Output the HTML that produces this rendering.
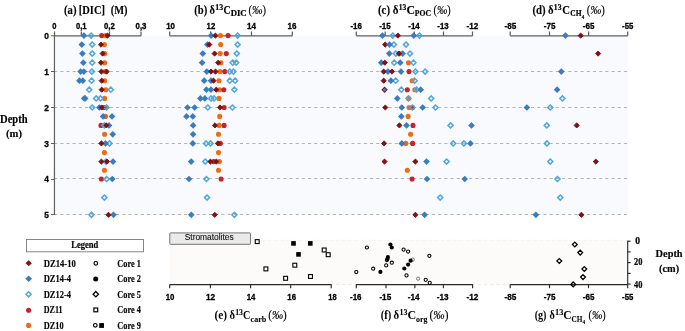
<!DOCTYPE html>
<html><head><meta charset="utf-8"><style>
html,body{margin:0;padding:0;background:#fff;}
body{width:685px;height:331px;overflow:hidden;}
svg{display:block;will-change:transform;}
</style></head><body>
<svg width="685" height="331" viewBox="0 0 685 331">
<rect x="55" y="36" width="573" height="178.5" fill="#f9fafe"/>
<line x1="54.1" y1="71.5" x2="628" y2="71.5" stroke="#b3b3b3" stroke-width="1" stroke-dasharray="3.1 3.094"/>
<line x1="54.1" y1="107.5" x2="628" y2="107.5" stroke="#b3b3b3" stroke-width="1" stroke-dasharray="3.1 3.094"/>
<line x1="54.1" y1="143.5" x2="628" y2="143.5" stroke="#b3b3b3" stroke-width="1" stroke-dasharray="3.1 3.094"/>
<line x1="54.1" y1="178.5" x2="628" y2="178.5" stroke="#b3b3b3" stroke-width="1" stroke-dasharray="3.1 3.094"/>
<line x1="54.1" y1="214.5" x2="628" y2="214.5" stroke="#b3b3b3" stroke-width="1" stroke-dasharray="3.1 3.094"/>
<line x1="54.45" y1="35" x2="54.45" y2="215" stroke="#5f5f5f" stroke-width="1.2"/>
<line x1="51" y1="35.8" x2="54.5" y2="35.8" stroke="#5f5f5f" stroke-width="1"/>
<line x1="51" y1="71.5" x2="54.5" y2="71.5" stroke="#5f5f5f" stroke-width="1"/>
<line x1="51" y1="107.5" x2="54.5" y2="107.5" stroke="#5f5f5f" stroke-width="1"/>
<line x1="51" y1="143.5" x2="54.5" y2="143.5" stroke="#5f5f5f" stroke-width="1"/>
<line x1="51" y1="179.5" x2="54.5" y2="179.5" stroke="#5f5f5f" stroke-width="1"/>
<line x1="51" y1="214.5" x2="54.5" y2="214.5" stroke="#5f5f5f" stroke-width="1"/>
<text x="48.9" y="38.7" font-family="Liberation Sans" font-size="8.4" font-weight="bold" fill="#000" text-anchor="end" stroke="#000" stroke-width="0.3" >0</text>
<text x="48.9" y="74.7" font-family="Liberation Sans" font-size="8.4" font-weight="bold" fill="#000" text-anchor="end" stroke="#000" stroke-width="0.3" >1</text>
<text x="48.9" y="110.7" font-family="Liberation Sans" font-size="8.4" font-weight="bold" fill="#000" text-anchor="end" stroke="#000" stroke-width="0.3" >2</text>
<text x="48.9" y="146.7" font-family="Liberation Sans" font-size="8.4" font-weight="bold" fill="#000" text-anchor="end" stroke="#000" stroke-width="0.3" >3</text>
<text x="48.9" y="182.2" font-family="Liberation Sans" font-size="8.4" font-weight="bold" fill="#000" text-anchor="end" stroke="#000" stroke-width="0.3" >4</text>
<text x="48.9" y="218.0" font-family="Liberation Sans" font-size="8.4" font-weight="bold" fill="#000" text-anchor="end" stroke="#000" stroke-width="0.3" >5</text>
<line x1="54.5" y1="35.8" x2="141.2" y2="35.8" stroke="#5f5f5f" stroke-width="1.25"/>
<line x1="54.5" y1="31.4" x2="54.5" y2="35.8" stroke="#5f5f5f" stroke-width="1.25"/>
<line x1="81.3" y1="31.4" x2="81.3" y2="35.8" stroke="#5f5f5f" stroke-width="1.25"/>
<line x1="109.5" y1="31.4" x2="109.5" y2="35.8" stroke="#5f5f5f" stroke-width="1.25"/>
<line x1="141.0" y1="31.4" x2="141.0" y2="35.8" stroke="#5f5f5f" stroke-width="1.25"/>
<text x="54.3" y="29.0" font-family="Liberation Sans" font-size="8.4" font-weight="bold" fill="#000" text-anchor="middle" stroke="#000" stroke-width="0.3" textLength="4.2" lengthAdjust="spacingAndGlyphs" >0</text>
<text x="81.2" y="29.0" font-family="Liberation Sans" font-size="8.4" font-weight="bold" fill="#000" text-anchor="middle" stroke="#000" stroke-width="0.3" textLength="10.6" lengthAdjust="spacingAndGlyphs" >0,1</text>
<text x="109.4" y="29.0" font-family="Liberation Sans" font-size="8.4" font-weight="bold" fill="#000" text-anchor="middle" stroke="#000" stroke-width="0.3" textLength="10.8" lengthAdjust="spacingAndGlyphs" >0,2</text>
<text x="141.0" y="29.0" font-family="Liberation Sans" font-size="8.4" font-weight="bold" fill="#000" text-anchor="middle" stroke="#000" stroke-width="0.3" textLength="11.0" lengthAdjust="spacingAndGlyphs" >0,3</text>
<line x1="169.7" y1="35.8" x2="292.4" y2="35.8" stroke="#5f5f5f" stroke-width="1.25"/>
<line x1="169.7" y1="31.4" x2="169.7" y2="35.8" stroke="#5f5f5f" stroke-width="1.25"/>
<line x1="210.6" y1="31.4" x2="210.6" y2="35.8" stroke="#5f5f5f" stroke-width="1.25"/>
<line x1="251.5" y1="31.4" x2="251.5" y2="35.8" stroke="#5f5f5f" stroke-width="1.25"/>
<line x1="292.3" y1="31.4" x2="292.3" y2="35.8" stroke="#5f5f5f" stroke-width="1.25"/>
<text x="170.6" y="29.0" font-family="Liberation Sans" font-size="8.4" font-weight="bold" fill="#000" text-anchor="middle" stroke="#000" stroke-width="0.3" textLength="8.8" lengthAdjust="spacingAndGlyphs" >10</text>
<text x="210.9" y="29.0" font-family="Liberation Sans" font-size="8.4" font-weight="bold" fill="#000" text-anchor="middle" stroke="#000" stroke-width="0.3" textLength="8.6" lengthAdjust="spacingAndGlyphs" >12</text>
<text x="251.5" y="29.0" font-family="Liberation Sans" font-size="8.4" font-weight="bold" fill="#000" text-anchor="middle" stroke="#000" stroke-width="0.3" textLength="9.0" lengthAdjust="spacingAndGlyphs" >14</text>
<text x="292.0" y="29.0" font-family="Liberation Sans" font-size="8.4" font-weight="bold" fill="#000" text-anchor="middle" stroke="#000" stroke-width="0.3" textLength="8.9" lengthAdjust="spacingAndGlyphs" >16</text>
<line x1="356.3" y1="35.8" x2="472.6" y2="35.8" stroke="#5f5f5f" stroke-width="1.25"/>
<line x1="356.3" y1="31.4" x2="356.3" y2="35.8" stroke="#5f5f5f" stroke-width="1.25"/>
<line x1="385.2" y1="31.4" x2="385.2" y2="35.8" stroke="#5f5f5f" stroke-width="1.25"/>
<line x1="414.3" y1="31.4" x2="414.3" y2="35.8" stroke="#5f5f5f" stroke-width="1.25"/>
<line x1="443.5" y1="31.4" x2="443.5" y2="35.8" stroke="#5f5f5f" stroke-width="1.25"/>
<line x1="472.5" y1="31.4" x2="472.5" y2="35.8" stroke="#5f5f5f" stroke-width="1.25"/>
<text x="356.1" y="29.0" font-family="Liberation Sans" font-size="8.4" font-weight="bold" fill="#000" text-anchor="middle" stroke="#000" stroke-width="0.3" textLength="11.4" lengthAdjust="spacingAndGlyphs" >-16</text>
<text x="385.0" y="29.0" font-family="Liberation Sans" font-size="8.4" font-weight="bold" fill="#000" text-anchor="middle" stroke="#000" stroke-width="0.3" textLength="11.6" lengthAdjust="spacingAndGlyphs" >-15</text>
<text x="414.0" y="29.0" font-family="Liberation Sans" font-size="8.4" font-weight="bold" fill="#000" text-anchor="middle" stroke="#000" stroke-width="0.3" textLength="11.5" lengthAdjust="spacingAndGlyphs" >-14</text>
<text x="443.0" y="29.0" font-family="Liberation Sans" font-size="8.4" font-weight="bold" fill="#000" text-anchor="middle" stroke="#000" stroke-width="0.3" textLength="11.4" lengthAdjust="spacingAndGlyphs" >-13</text>
<text x="472.5" y="29.0" font-family="Liberation Sans" font-size="8.4" font-weight="bold" fill="#000" text-anchor="middle" stroke="#000" stroke-width="0.3" textLength="11.8" lengthAdjust="spacingAndGlyphs" >-12</text>
<line x1="510.2" y1="35.8" x2="627.8" y2="35.8" stroke="#5f5f5f" stroke-width="1.25"/>
<line x1="510.2" y1="31.4" x2="510.2" y2="35.8" stroke="#5f5f5f" stroke-width="1.25"/>
<line x1="549.5" y1="31.4" x2="549.5" y2="35.8" stroke="#5f5f5f" stroke-width="1.25"/>
<line x1="588.6" y1="31.4" x2="588.6" y2="35.8" stroke="#5f5f5f" stroke-width="1.25"/>
<line x1="627.7" y1="31.4" x2="627.7" y2="35.8" stroke="#5f5f5f" stroke-width="1.25"/>
<text x="510.4" y="29.0" font-family="Liberation Sans" font-size="8.4" font-weight="bold" fill="#000" text-anchor="middle" stroke="#000" stroke-width="0.3" textLength="11.8" lengthAdjust="spacingAndGlyphs" >-85</text>
<text x="549.7" y="29.0" font-family="Liberation Sans" font-size="8.4" font-weight="bold" fill="#000" text-anchor="middle" stroke="#000" stroke-width="0.3" textLength="11.7" lengthAdjust="spacingAndGlyphs" >-75</text>
<text x="588.6" y="29.0" font-family="Liberation Sans" font-size="8.4" font-weight="bold" fill="#000" text-anchor="middle" stroke="#000" stroke-width="0.3" textLength="11.6" lengthAdjust="spacingAndGlyphs" >-65</text>
<text x="627.7" y="29.0" font-family="Liberation Sans" font-size="8.4" font-weight="bold" fill="#000" text-anchor="middle" stroke="#000" stroke-width="0.3" textLength="11.3" lengthAdjust="spacingAndGlyphs" >-55</text>
<circle cx="105.50" cy="35.60" r="2.55" fill="#f06a10"/>
<circle cx="104.40" cy="44.60" r="2.55" fill="#f06a10"/>
<circle cx="104.70" cy="53.60" r="2.55" fill="#f06a10"/>
<circle cx="104.70" cy="62.70" r="2.55" fill="#f06a10"/>
<circle cx="105.00" cy="71.60" r="2.55" fill="#f06a10"/>
<circle cx="104.70" cy="80.70" r="2.55" fill="#f06a10"/>
<circle cx="105.80" cy="89.70" r="2.55" fill="#f06a10"/>
<circle cx="104.60" cy="98.40" r="2.55" fill="#f06a10"/>
<circle cx="105.90" cy="107.50" r="2.55" fill="#f06a10"/>
<circle cx="105.50" cy="116.40" r="2.55" fill="#f06a10"/>
<circle cx="104.60" cy="134.30" r="2.55" fill="#f06a10"/>
<circle cx="104.40" cy="152.60" r="2.55" fill="#f06a10"/>
<circle cx="104.40" cy="170.30" r="2.55" fill="#f06a10"/>
<circle cx="101.70" cy="35.60" r="2.55" fill="#c62329"/>
<circle cx="103.60" cy="107.50" r="2.55" fill="#c62329"/>
<circle cx="101.00" cy="125.40" r="2.55" fill="#c62329"/>
<circle cx="101.40" cy="179.00" r="2.55" fill="#c62329"/>
<path d="M91.10 33.05L93.65 35.60L91.10 38.15L88.55 35.60Z" fill="none" stroke="#52a6dc" stroke-width="1.5"/>
<path d="M92.20 42.05L94.75 44.60L92.20 47.15L89.65 44.60Z" fill="none" stroke="#52a6dc" stroke-width="1.5"/>
<path d="M92.20 51.05L94.75 53.60L92.20 56.15L89.65 53.60Z" fill="none" stroke="#52a6dc" stroke-width="1.5"/>
<path d="M92.20 60.15L94.75 62.70L92.20 65.25L89.65 62.70Z" fill="none" stroke="#52a6dc" stroke-width="1.5"/>
<path d="M91.90 69.05L94.45 71.60L91.90 74.15L89.35 71.60Z" fill="none" stroke="#52a6dc" stroke-width="1.5"/>
<path d="M91.60 78.15L94.15 80.70L91.60 83.25L89.05 80.70Z" fill="none" stroke="#52a6dc" stroke-width="1.5"/>
<path d="M89.20 87.15L91.75 89.70L89.20 92.25L86.65 89.70Z" fill="none" stroke="#52a6dc" stroke-width="1.5"/>
<path d="M110.80 87.15L113.35 89.70L110.80 92.25L108.25 89.70Z" fill="none" stroke="#52a6dc" stroke-width="1.5"/>
<path d="M96.20 95.85L98.75 98.40L96.20 100.95L93.65 98.40Z" fill="none" stroke="#52a6dc" stroke-width="1.5"/>
<path d="M100.40 95.85L102.95 98.40L100.40 100.95L97.85 98.40Z" fill="none" stroke="#52a6dc" stroke-width="1.5"/>
<path d="M92.20 104.95L94.75 107.50L92.20 110.05L89.65 107.50Z" fill="none" stroke="#52a6dc" stroke-width="1.5"/>
<path d="M106.50 104.95L109.05 107.50L106.50 110.05L103.95 107.50Z" fill="none" stroke="#52a6dc" stroke-width="1.5"/>
<path d="M104.40 122.85L106.95 125.40L104.40 127.95L101.85 125.40Z" fill="none" stroke="#52a6dc" stroke-width="1.5"/>
<path d="M109.50 140.85L112.05 143.40L109.50 145.95L106.95 143.40Z" fill="none" stroke="#52a6dc" stroke-width="1.5"/>
<path d="M106.00 159.05L108.55 161.60L106.00 164.15L103.45 161.60Z" fill="none" stroke="#52a6dc" stroke-width="1.5"/>
<path d="M106.60 176.45L109.15 179.00L106.60 181.55L104.05 179.00Z" fill="none" stroke="#52a6dc" stroke-width="1.5"/>
<path d="M104.40 195.05L106.95 197.60L104.40 200.15L101.85 197.60Z" fill="none" stroke="#52a6dc" stroke-width="1.5"/>
<path d="M91.50 212.25L94.05 214.80L91.50 217.35L88.95 214.80Z" fill="none" stroke="#52a6dc" stroke-width="1.5"/>
<path d="M83.90 32.25L87.25 35.60L83.90 38.95L80.55 35.60Z" fill="#3a7cc4"/>
<path d="M81.80 41.25L85.15 44.60L81.80 47.95L78.45 44.60Z" fill="#3a7cc4"/>
<path d="M82.40 50.25L85.75 53.60L82.40 56.95L79.05 53.60Z" fill="#3a7cc4"/>
<path d="M83.30 59.35L86.65 62.70L83.30 66.05L79.95 62.70Z" fill="#3a7cc4"/>
<path d="M80.60 68.25L83.95 71.60L80.60 74.95L77.25 71.60Z" fill="#3a7cc4"/>
<path d="M83.90 68.25L87.25 71.60L83.90 74.95L80.55 71.60Z" fill="#3a7cc4"/>
<path d="M79.40 77.35L82.75 80.70L79.40 84.05L76.05 80.70Z" fill="#3a7cc4"/>
<path d="M82.80 77.35L86.15 80.70L82.80 84.05L79.45 80.70Z" fill="#3a7cc4"/>
<path d="M84.20 95.05L87.55 98.40L84.20 101.75L80.85 98.40Z" fill="#3a7cc4"/>
<path d="M85.20 95.05L88.55 98.40L85.20 101.75L81.85 98.40Z" fill="#3a7cc4"/>
<path d="M99.30 104.15L102.65 107.50L99.30 110.85L95.95 107.50Z" fill="#3a7cc4"/>
<path d="M103.10 113.05L106.45 116.40L103.10 119.75L99.75 116.40Z" fill="#3a7cc4"/>
<path d="M112.00 113.05L115.35 116.40L112.00 119.75L108.65 116.40Z" fill="#3a7cc4"/>
<path d="M109.00 122.05L112.35 125.40L109.00 128.75L105.65 125.40Z" fill="#3a7cc4"/>
<path d="M112.70 130.95L116.05 134.30L112.70 137.65L109.35 134.30Z" fill="#3a7cc4"/>
<path d="M105.50 140.05L108.85 143.40L105.50 146.75L102.15 143.40Z" fill="#3a7cc4"/>
<path d="M113.00 158.25L116.35 161.60L113.00 164.95L109.65 161.60Z" fill="#3a7cc4"/>
<path d="M112.30 175.65L115.65 179.00L112.30 182.35L108.95 179.00Z" fill="#3a7cc4"/>
<path d="M113.50 211.45L116.85 214.80L113.50 218.15L110.15 214.80Z" fill="#3a7cc4"/>
<path d="M107.50 33.00L110.10 35.60L107.50 38.20L104.90 35.60Z" fill="#801111" stroke="#801111" stroke-width="0.9" stroke-linejoin="round"/>
<path d="M101.00 42.00L103.60 44.60L101.00 47.20L98.40 44.60Z" fill="#801111" stroke="#801111" stroke-width="0.9" stroke-linejoin="round"/>
<path d="M102.60 51.00L105.20 53.60L102.60 56.20L100.00 53.60Z" fill="#801111" stroke="#801111" stroke-width="0.9" stroke-linejoin="round"/>
<path d="M101.00 60.10L103.60 62.70L101.00 65.30L98.40 62.70Z" fill="#801111" stroke="#801111" stroke-width="0.9" stroke-linejoin="round"/>
<path d="M101.40 69.00L104.00 71.60L101.40 74.20L98.80 71.60Z" fill="#801111" stroke="#801111" stroke-width="0.9" stroke-linejoin="round"/>
<path d="M106.60 69.00L109.20 71.60L106.60 74.20L104.00 71.60Z" fill="#801111" stroke="#801111" stroke-width="0.9" stroke-linejoin="round"/>
<path d="M101.70 78.10L104.30 80.70L101.70 83.30L99.10 80.70Z" fill="#801111" stroke="#801111" stroke-width="0.9" stroke-linejoin="round"/>
<path d="M101.70 87.10L104.30 89.70L101.70 92.30L99.10 89.70Z" fill="#801111" stroke="#801111" stroke-width="0.9" stroke-linejoin="round"/>
<path d="M101.60 104.90L104.20 107.50L101.60 110.10L99.00 107.50Z" fill="#801111" stroke="#801111" stroke-width="0.9" stroke-linejoin="round"/>
<path d="M106.30 122.80L108.90 125.40L106.30 128.00L103.70 125.40Z" fill="#801111" stroke="#801111" stroke-width="0.9" stroke-linejoin="round"/>
<path d="M101.40 140.80L104.00 143.40L101.40 146.00L98.80 143.40Z" fill="#801111" stroke="#801111" stroke-width="0.9" stroke-linejoin="round"/>
<path d="M101.40 159.00L104.00 161.60L101.40 164.20L98.80 161.60Z" fill="#801111" stroke="#801111" stroke-width="0.9" stroke-linejoin="round"/>
<path d="M107.00 159.00L109.60 161.60L107.00 164.20L104.40 161.60Z" fill="#801111" stroke="#801111" stroke-width="0.9" stroke-linejoin="round"/>
<path d="M108.50 212.20L111.10 214.80L108.50 217.40L105.90 214.80Z" fill="#801111" stroke="#801111" stroke-width="0.9" stroke-linejoin="round"/>
<circle cx="220.50" cy="35.60" r="2.55" fill="#f06a10"/>
<circle cx="220.70" cy="44.60" r="2.55" fill="#f06a10"/>
<circle cx="220.20" cy="53.60" r="2.55" fill="#f06a10"/>
<circle cx="221.00" cy="62.70" r="2.55" fill="#f06a10"/>
<circle cx="220.10" cy="71.60" r="2.55" fill="#f06a10"/>
<circle cx="219.00" cy="80.70" r="2.55" fill="#f06a10"/>
<circle cx="219.60" cy="89.70" r="2.55" fill="#f06a10"/>
<circle cx="219.00" cy="98.40" r="2.55" fill="#f06a10"/>
<circle cx="219.70" cy="116.40" r="2.55" fill="#f06a10"/>
<circle cx="219.10" cy="125.40" r="2.55" fill="#f06a10"/>
<circle cx="218.50" cy="134.30" r="2.55" fill="#f06a10"/>
<circle cx="218.50" cy="152.60" r="2.55" fill="#f06a10"/>
<circle cx="219.40" cy="161.60" r="2.55" fill="#f06a10"/>
<circle cx="218.50" cy="170.30" r="2.55" fill="#f06a10"/>
<circle cx="228.10" cy="35.60" r="2.55" fill="#c62329"/>
<circle cx="226.30" cy="53.60" r="2.55" fill="#c62329"/>
<circle cx="224.80" cy="71.60" r="2.55" fill="#c62329"/>
<circle cx="223.80" cy="89.70" r="2.55" fill="#c62329"/>
<circle cx="224.10" cy="107.50" r="2.55" fill="#c62329"/>
<circle cx="224.10" cy="125.40" r="2.55" fill="#c62329"/>
<circle cx="220.30" cy="143.40" r="2.55" fill="#c62329"/>
<circle cx="213.60" cy="161.60" r="2.55" fill="#c62329"/>
<circle cx="221.10" cy="179.00" r="2.55" fill="#c62329"/>
<path d="M237.60 33.05L240.15 35.60L237.60 38.15L235.05 35.60Z" fill="none" stroke="#52a6dc" stroke-width="1.5"/>
<path d="M237.60 42.05L240.15 44.60L237.60 47.15L235.05 44.60Z" fill="none" stroke="#52a6dc" stroke-width="1.5"/>
<path d="M236.80 51.05L239.35 53.60L236.80 56.15L234.25 53.60Z" fill="none" stroke="#52a6dc" stroke-width="1.5"/>
<path d="M232.70 60.15L235.25 62.70L232.70 65.25L230.15 62.70Z" fill="none" stroke="#52a6dc" stroke-width="1.5"/>
<path d="M236.10 60.15L238.65 62.70L236.10 65.25L233.55 62.70Z" fill="none" stroke="#52a6dc" stroke-width="1.5"/>
<path d="M229.70 69.05L232.25 71.60L229.70 74.15L227.15 71.60Z" fill="none" stroke="#52a6dc" stroke-width="1.5"/>
<path d="M233.40 69.05L235.95 71.60L233.40 74.15L230.85 71.60Z" fill="none" stroke="#52a6dc" stroke-width="1.5"/>
<path d="M229.80 78.15L232.35 80.70L229.80 83.25L227.25 80.70Z" fill="none" stroke="#52a6dc" stroke-width="1.5"/>
<path d="M235.10 78.15L237.65 80.70L235.10 83.25L232.55 80.70Z" fill="none" stroke="#52a6dc" stroke-width="1.5"/>
<path d="M234.40 87.15L236.95 89.70L234.40 92.25L231.85 89.70Z" fill="none" stroke="#52a6dc" stroke-width="1.5"/>
<path d="M211.00 95.85L213.55 98.40L211.00 100.95L208.45 98.40Z" fill="none" stroke="#52a6dc" stroke-width="1.5"/>
<path d="M214.00 95.85L216.55 98.40L214.00 100.95L211.45 98.40Z" fill="none" stroke="#52a6dc" stroke-width="1.5"/>
<path d="M207.80 104.95L210.35 107.50L207.80 110.05L205.25 107.50Z" fill="none" stroke="#52a6dc" stroke-width="1.5"/>
<path d="M232.40 104.95L234.95 107.50L232.40 110.05L229.85 107.50Z" fill="none" stroke="#52a6dc" stroke-width="1.5"/>
<path d="M206.00 140.85L208.55 143.40L206.00 145.95L203.45 143.40Z" fill="none" stroke="#52a6dc" stroke-width="1.5"/>
<path d="M210.50 140.85L213.05 143.40L210.50 145.95L207.95 143.40Z" fill="none" stroke="#52a6dc" stroke-width="1.5"/>
<path d="M205.30 159.05L207.85 161.60L205.30 164.15L202.75 161.60Z" fill="none" stroke="#52a6dc" stroke-width="1.5"/>
<path d="M206.40 176.45L208.95 179.00L206.40 181.55L203.85 179.00Z" fill="none" stroke="#52a6dc" stroke-width="1.5"/>
<path d="M207.00 195.05L209.55 197.60L207.00 200.15L204.45 197.60Z" fill="none" stroke="#52a6dc" stroke-width="1.5"/>
<path d="M234.40 212.25L236.95 214.80L234.40 217.35L231.85 214.80Z" fill="none" stroke="#52a6dc" stroke-width="1.5"/>
<path d="M211.10 32.25L214.45 35.60L211.10 38.95L207.75 35.60Z" fill="#3a7cc4"/>
<path d="M207.40 41.25L210.75 44.60L207.40 47.95L204.05 44.60Z" fill="#3a7cc4"/>
<path d="M202.80 50.25L206.15 53.60L202.80 56.95L199.45 53.60Z" fill="#3a7cc4"/>
<path d="M202.10 59.35L205.45 62.70L202.10 66.05L198.75 62.70Z" fill="#3a7cc4"/>
<path d="M206.80 68.25L210.15 71.60L206.80 74.95L203.45 71.60Z" fill="#3a7cc4"/>
<path d="M204.20 77.35L207.55 80.70L204.20 84.05L200.85 80.70Z" fill="#3a7cc4"/>
<path d="M211.00 77.35L214.35 80.70L211.00 84.05L207.65 80.70Z" fill="#3a7cc4"/>
<path d="M206.40 86.35L209.75 89.70L206.40 93.05L203.05 89.70Z" fill="#3a7cc4"/>
<path d="M211.00 86.35L214.35 89.70L211.00 93.05L207.65 89.70Z" fill="#3a7cc4"/>
<path d="M200.40 95.05L203.75 98.40L200.40 101.75L197.05 98.40Z" fill="#3a7cc4"/>
<path d="M204.90 95.05L208.25 98.40L204.90 101.75L201.55 98.40Z" fill="#3a7cc4"/>
<path d="M187.50 104.15L190.85 107.50L187.50 110.85L184.15 107.50Z" fill="#3a7cc4"/>
<path d="M194.60 104.15L197.95 107.50L194.60 110.85L191.25 107.50Z" fill="#3a7cc4"/>
<path d="M186.50 113.05L189.85 116.40L186.50 119.75L183.15 116.40Z" fill="#3a7cc4"/>
<path d="M192.80 113.05L196.15 116.40L192.80 119.75L189.45 116.40Z" fill="#3a7cc4"/>
<path d="M193.10 122.05L196.45 125.40L193.10 128.75L189.75 125.40Z" fill="#3a7cc4"/>
<path d="M193.10 130.95L196.45 134.30L193.10 137.65L189.75 134.30Z" fill="#3a7cc4"/>
<path d="M192.80 140.05L196.15 143.40L192.80 146.75L189.45 143.40Z" fill="#3a7cc4"/>
<path d="M191.20 158.25L194.55 161.60L191.20 164.95L187.85 161.60Z" fill="#3a7cc4"/>
<path d="M189.00 175.65L192.35 179.00L189.00 182.35L185.65 179.00Z" fill="#3a7cc4"/>
<path d="M191.30 211.45L194.65 214.80L191.30 218.15L187.95 214.80Z" fill="#3a7cc4"/>
<path d="M215.40 33.00L218.00 35.60L215.40 38.20L212.80 35.60Z" fill="#801111" stroke="#801111" stroke-width="0.9" stroke-linejoin="round"/>
<path d="M209.30 42.00L211.90 44.60L209.30 47.20L206.70 44.60Z" fill="#801111" stroke="#801111" stroke-width="0.9" stroke-linejoin="round"/>
<path d="M214.60 51.00L217.20 53.60L214.60 56.20L212.00 53.60Z" fill="#801111" stroke="#801111" stroke-width="0.9" stroke-linejoin="round"/>
<path d="M218.20 60.10L220.80 62.70L218.20 65.30L215.60 62.70Z" fill="#801111" stroke="#801111" stroke-width="0.9" stroke-linejoin="round"/>
<path d="M211.00 69.00L213.60 71.60L211.00 74.20L208.40 71.60Z" fill="#801111" stroke="#801111" stroke-width="0.9" stroke-linejoin="round"/>
<path d="M215.50 69.00L218.10 71.60L215.50 74.20L212.90 71.60Z" fill="#801111" stroke="#801111" stroke-width="0.9" stroke-linejoin="round"/>
<path d="M213.50 78.10L216.10 80.70L213.50 83.30L210.90 80.70Z" fill="#801111" stroke="#801111" stroke-width="0.9" stroke-linejoin="round"/>
<path d="M216.30 87.10L218.90 89.70L216.30 92.30L213.70 89.70Z" fill="#801111" stroke="#801111" stroke-width="0.9" stroke-linejoin="round"/>
<path d="M220.00 104.90L222.60 107.50L220.00 110.10L217.40 107.50Z" fill="#801111" stroke="#801111" stroke-width="0.9" stroke-linejoin="round"/>
<path d="M215.00 122.80L217.60 125.40L215.00 128.00L212.40 125.40Z" fill="#801111" stroke="#801111" stroke-width="0.9" stroke-linejoin="round"/>
<path d="M217.90 140.80L220.50 143.40L217.90 146.00L215.30 143.40Z" fill="#801111" stroke="#801111" stroke-width="0.9" stroke-linejoin="round"/>
<path d="M210.40 159.00L213.00 161.60L210.40 164.20L207.80 161.60Z" fill="#801111" stroke="#801111" stroke-width="0.9" stroke-linejoin="round"/>
<path d="M216.30 159.00L218.90 161.60L216.30 164.20L213.70 161.60Z" fill="#801111" stroke="#801111" stroke-width="0.9" stroke-linejoin="round"/>
<path d="M214.70 212.20L217.30 214.80L214.70 217.40L212.10 214.80Z" fill="#801111" stroke="#801111" stroke-width="0.9" stroke-linejoin="round"/>
<circle cx="399.50" cy="53.60" r="2.55" fill="#f06a10"/>
<circle cx="408.50" cy="62.70" r="2.55" fill="#f06a10"/>
<circle cx="412.10" cy="80.70" r="2.55" fill="#f06a10"/>
<circle cx="414.80" cy="89.70" r="2.55" fill="#f06a10"/>
<circle cx="408.50" cy="98.40" r="2.55" fill="#f06a10"/>
<circle cx="409.10" cy="107.50" r="2.55" fill="#f06a10"/>
<circle cx="408.10" cy="116.40" r="2.55" fill="#f06a10"/>
<circle cx="410.60" cy="134.30" r="2.55" fill="#f06a10"/>
<circle cx="405.70" cy="143.40" r="2.55" fill="#f06a10"/>
<circle cx="407.30" cy="170.30" r="2.55" fill="#f06a10"/>
<circle cx="409.00" cy="71.60" r="2.55" fill="#c62329"/>
<circle cx="407.30" cy="89.70" r="2.55" fill="#c62329"/>
<circle cx="412.40" cy="107.50" r="2.55" fill="#c62329"/>
<circle cx="413.00" cy="125.40" r="2.55" fill="#c62329"/>
<circle cx="412.60" cy="143.40" r="2.55" fill="#c62329"/>
<circle cx="412.10" cy="179.00" r="2.55" fill="#c62329"/>
<path d="M392.70 33.05L395.25 35.60L392.70 38.15L390.15 35.60Z" fill="none" stroke="#52a6dc" stroke-width="1.5"/>
<path d="M419.50 33.05L422.05 35.60L419.50 38.15L416.95 35.60Z" fill="none" stroke="#52a6dc" stroke-width="1.5"/>
<path d="M393.90 42.05L396.45 44.60L393.90 47.15L391.35 44.60Z" fill="none" stroke="#52a6dc" stroke-width="1.5"/>
<path d="M406.00 42.05L408.55 44.60L406.00 47.15L403.45 44.60Z" fill="none" stroke="#52a6dc" stroke-width="1.5"/>
<path d="M395.80 51.05L398.35 53.60L395.80 56.15L393.25 53.60Z" fill="none" stroke="#52a6dc" stroke-width="1.5"/>
<path d="M410.00 51.05L412.55 53.60L410.00 56.15L407.45 53.60Z" fill="none" stroke="#52a6dc" stroke-width="1.5"/>
<path d="M394.20 60.15L396.75 62.70L394.20 65.25L391.65 62.70Z" fill="none" stroke="#52a6dc" stroke-width="1.5"/>
<path d="M413.40 60.15L415.95 62.70L413.40 65.25L410.85 62.70Z" fill="none" stroke="#52a6dc" stroke-width="1.5"/>
<path d="M415.40 69.05L417.95 71.60L415.40 74.15L412.85 71.60Z" fill="none" stroke="#52a6dc" stroke-width="1.5"/>
<path d="M425.10 69.05L427.65 71.60L425.10 74.15L422.55 71.60Z" fill="none" stroke="#52a6dc" stroke-width="1.5"/>
<path d="M395.70 78.15L398.25 80.70L395.70 83.25L393.15 80.70Z" fill="none" stroke="#52a6dc" stroke-width="1.5"/>
<path d="M414.60 78.15L417.15 80.70L414.60 83.25L412.05 80.70Z" fill="none" stroke="#52a6dc" stroke-width="1.5"/>
<path d="M401.30 87.15L403.85 89.70L401.30 92.25L398.75 89.70Z" fill="none" stroke="#52a6dc" stroke-width="1.5"/>
<path d="M416.50 87.15L419.05 89.70L416.50 92.25L413.95 89.70Z" fill="none" stroke="#52a6dc" stroke-width="1.5"/>
<path d="M408.50 95.85L411.05 98.40L408.50 100.95L405.95 98.40Z" fill="none" stroke="#52a6dc" stroke-width="1.5"/>
<path d="M431.20 95.85L433.75 98.40L431.20 100.95L428.65 98.40Z" fill="none" stroke="#52a6dc" stroke-width="1.5"/>
<path d="M412.40 104.95L414.95 107.50L412.40 110.05L409.85 107.50Z" fill="none" stroke="#52a6dc" stroke-width="1.5"/>
<path d="M435.50 104.95L438.05 107.50L435.50 110.05L432.95 107.50Z" fill="none" stroke="#52a6dc" stroke-width="1.5"/>
<path d="M450.60 122.85L453.15 125.40L450.60 127.95L448.05 125.40Z" fill="none" stroke="#52a6dc" stroke-width="1.5"/>
<path d="M453.20 140.85L455.75 143.40L453.20 145.95L450.65 143.40Z" fill="none" stroke="#52a6dc" stroke-width="1.5"/>
<path d="M463.90 140.85L466.45 143.40L463.90 145.95L461.35 143.40Z" fill="none" stroke="#52a6dc" stroke-width="1.5"/>
<path d="M446.60 159.05L449.15 161.60L446.60 164.15L444.05 161.60Z" fill="none" stroke="#52a6dc" stroke-width="1.5"/>
<path d="M440.20 195.05L442.75 197.60L440.20 200.15L437.65 197.60Z" fill="none" stroke="#52a6dc" stroke-width="1.5"/>
<path d="M382.40 32.25L385.75 35.60L382.40 38.95L379.05 35.60Z" fill="#3a7cc4"/>
<path d="M413.80 32.25L417.15 35.60L413.80 38.95L410.45 35.60Z" fill="#3a7cc4"/>
<path d="M389.30 50.25L392.65 53.60L389.30 56.95L385.95 53.60Z" fill="#3a7cc4"/>
<path d="M402.60 50.25L405.95 53.60L402.60 56.95L399.25 53.60Z" fill="#3a7cc4"/>
<path d="M381.30 59.35L384.65 62.70L381.30 66.05L377.95 62.70Z" fill="#3a7cc4"/>
<path d="M400.20 59.35L403.55 62.70L400.20 66.05L396.85 62.70Z" fill="#3a7cc4"/>
<path d="M388.00 68.25L391.35 71.60L388.00 74.95L384.65 71.60Z" fill="#3a7cc4"/>
<path d="M401.00 68.25L404.35 71.60L401.00 74.95L397.65 71.60Z" fill="#3a7cc4"/>
<path d="M390.90 77.35L394.25 80.70L390.90 84.05L387.55 80.70Z" fill="#3a7cc4"/>
<path d="M420.70 86.35L424.05 89.70L420.70 93.05L417.35 89.70Z" fill="#3a7cc4"/>
<path d="M397.30 95.05L400.65 98.40L397.30 101.75L393.95 98.40Z" fill="#3a7cc4"/>
<path d="M401.80 104.15L405.15 107.50L401.80 110.85L398.45 107.50Z" fill="#3a7cc4"/>
<path d="M422.70 104.15L426.05 107.50L422.70 110.85L419.35 107.50Z" fill="#3a7cc4"/>
<path d="M401.30 113.05L404.65 116.40L401.30 119.75L397.95 116.40Z" fill="#3a7cc4"/>
<path d="M406.50 122.05L409.85 125.40L406.50 128.75L403.15 125.40Z" fill="#3a7cc4"/>
<path d="M471.50 122.05L474.85 125.40L471.50 128.75L468.15 125.40Z" fill="#3a7cc4"/>
<path d="M401.80 140.05L405.15 143.40L401.80 146.75L398.45 143.40Z" fill="#3a7cc4"/>
<path d="M470.40 140.05L473.75 143.40L470.40 146.75L467.05 143.40Z" fill="#3a7cc4"/>
<path d="M426.50 158.25L429.85 161.60L426.50 164.95L423.15 161.60Z" fill="#3a7cc4"/>
<path d="M427.00 175.65L430.35 179.00L427.00 182.35L423.65 179.00Z" fill="#3a7cc4"/>
<path d="M464.70 175.65L468.05 179.00L464.70 182.35L461.35 179.00Z" fill="#3a7cc4"/>
<path d="M424.60 211.45L427.95 214.80L424.60 218.15L421.25 214.80Z" fill="#3a7cc4"/>
<path d="M384.60 86.50L387.80 89.70L384.60 92.90L381.40 89.70Z" fill="#801111"/>
<path d="M384.60 87.70L386.60 89.70L384.60 91.70L382.60 89.70Z" fill="#3a7cc4"/>
<path d="M397.90 33.00L400.50 35.60L397.90 38.20L395.30 35.60Z" fill="#801111" stroke="#801111" stroke-width="0.9" stroke-linejoin="round"/>
<path d="M385.20 42.00L387.80 44.60L385.20 47.20L382.60 44.60Z" fill="#801111" stroke="#801111" stroke-width="0.9" stroke-linejoin="round"/>
<path d="M398.90 51.00L401.50 53.60L398.90 56.20L396.30 53.60Z" fill="#801111" stroke="#801111" stroke-width="0.9" stroke-linejoin="round"/>
<path d="M384.80 60.10L387.40 62.70L384.80 65.30L382.20 62.70Z" fill="#801111" stroke="#801111" stroke-width="0.9" stroke-linejoin="round"/>
<path d="M383.70 69.00L386.30 71.60L383.70 74.20L381.10 71.60Z" fill="#801111" stroke="#801111" stroke-width="0.9" stroke-linejoin="round"/>
<path d="M392.00 69.00L394.60 71.60L392.00 74.20L389.40 71.60Z" fill="#801111" stroke="#801111" stroke-width="0.9" stroke-linejoin="round"/>
<path d="M383.70 78.10L386.30 80.70L383.70 83.30L381.10 80.70Z" fill="#801111" stroke="#801111" stroke-width="0.9" stroke-linejoin="round"/>
<path d="M385.30 104.90L387.90 107.50L385.30 110.10L382.70 107.50Z" fill="#801111" stroke="#801111" stroke-width="0.9" stroke-linejoin="round"/>
<path d="M399.40 122.80L402.00 125.40L399.40 128.00L396.80 125.40Z" fill="#801111" stroke="#801111" stroke-width="0.9" stroke-linejoin="round"/>
<path d="M384.10 140.80L386.70 143.40L384.10 146.00L381.50 143.40Z" fill="#801111" stroke="#801111" stroke-width="0.9" stroke-linejoin="round"/>
<path d="M384.50 159.00L387.10 161.60L384.50 164.20L381.90 161.60Z" fill="#801111" stroke="#801111" stroke-width="0.9" stroke-linejoin="round"/>
<path d="M415.40 159.00L418.00 161.60L415.40 164.20L412.80 161.60Z" fill="#801111" stroke="#801111" stroke-width="0.9" stroke-linejoin="round"/>
<path d="M415.40 212.20L418.00 214.80L415.40 217.40L412.80 214.80Z" fill="#801111" stroke="#801111" stroke-width="0.9" stroke-linejoin="round"/>
<path d="M389.50 41.25L392.85 44.60L389.50 47.95L386.15 44.60Z" fill="#3a7cc4"/>
<path d="M562.40 95.85L564.95 98.40L562.40 100.95L559.85 98.40Z" fill="none" stroke="#52a6dc" stroke-width="1.5"/>
<path d="M550.30 104.95L552.85 107.50L550.30 110.05L547.75 107.50Z" fill="none" stroke="#52a6dc" stroke-width="1.5"/>
<path d="M546.80 122.85L549.35 125.40L546.80 127.95L544.25 125.40Z" fill="none" stroke="#52a6dc" stroke-width="1.5"/>
<path d="M546.90 140.85L549.45 143.40L546.90 145.95L544.35 143.40Z" fill="none" stroke="#52a6dc" stroke-width="1.5"/>
<path d="M550.30 159.05L552.85 161.60L550.30 164.15L547.75 161.60Z" fill="none" stroke="#52a6dc" stroke-width="1.5"/>
<path d="M557.50 176.45L560.05 179.00L557.50 181.55L554.95 179.00Z" fill="none" stroke="#52a6dc" stroke-width="1.5"/>
<path d="M560.30 195.05L562.85 197.60L560.30 200.15L557.75 197.60Z" fill="none" stroke="#52a6dc" stroke-width="1.5"/>
<path d="M565.40 32.25L568.75 35.60L565.40 38.95L562.05 35.60Z" fill="#3a7cc4"/>
<path d="M561.30 68.25L564.65 71.60L561.30 74.95L557.95 71.60Z" fill="#3a7cc4"/>
<path d="M557.10 86.35L560.45 89.70L557.10 93.05L553.75 89.70Z" fill="#3a7cc4"/>
<path d="M526.90 104.15L530.25 107.50L526.90 110.85L523.55 107.50Z" fill="#3a7cc4"/>
<path d="M535.90 211.45L539.25 214.80L535.90 218.15L532.55 214.80Z" fill="#3a7cc4"/>
<path d="M580.70 33.00L583.30 35.60L580.70 38.20L578.10 35.60Z" fill="#801111" stroke="#801111" stroke-width="0.9" stroke-linejoin="round"/>
<path d="M598.10 51.00L600.70 53.60L598.10 56.20L595.50 53.60Z" fill="#801111" stroke="#801111" stroke-width="0.9" stroke-linejoin="round"/>
<path d="M576.70 122.80L579.30 125.40L576.70 128.00L574.10 125.40Z" fill="#801111" stroke="#801111" stroke-width="0.9" stroke-linejoin="round"/>
<path d="M595.80 159.00L598.40 161.60L595.80 164.20L593.20 161.60Z" fill="#801111" stroke="#801111" stroke-width="0.9" stroke-linejoin="round"/>
<path d="M581.40 212.20L584.00 214.80L581.40 217.40L578.80 214.80Z" fill="#801111" stroke="#801111" stroke-width="0.9" stroke-linejoin="round"/>
<text x="0" y="123.0" font-family="Liberation Serif" font-size="11.8" font-weight="bold" fill="#000" text-anchor="start" stroke="#000" stroke-width="0.15" textLength="27.6" lengthAdjust="spacingAndGlyphs" >Depth</text>
<text x="14" y="137.3" font-family="Liberation Serif" font-size="11" font-weight="bold" fill="#000" text-anchor="middle" stroke="#000" stroke-width="0.15" textLength="16" lengthAdjust="spacingAndGlyphs" >(m)</text>
<rect x="169.5" y="240" width="458.5" height="44.5" fill="#fcfbf9"/>
<line x1="169.5" y1="240.3" x2="628" y2="240.3" stroke="#eeeeee" stroke-width="0.8" stroke-dasharray="3 3.17"/>
<line x1="169.5" y1="284.6" x2="628" y2="284.6" stroke="#e4e4e4" stroke-width="0.9" stroke-dasharray="3 3.17"/>
<line x1="169.7" y1="284.6" x2="331.5" y2="284.6" stroke="#2a2a2a" stroke-width="1.15"/>
<line x1="169.7" y1="284.6" x2="169.7" y2="288.2" stroke="#2a2a2a" stroke-width="1.15"/>
<line x1="210.4" y1="284.6" x2="210.4" y2="288.2" stroke="#2a2a2a" stroke-width="1.15"/>
<line x1="250.6" y1="284.6" x2="250.6" y2="288.2" stroke="#2a2a2a" stroke-width="1.15"/>
<line x1="290.7" y1="284.6" x2="290.7" y2="288.2" stroke="#2a2a2a" stroke-width="1.15"/>
<line x1="331.2" y1="284.6" x2="331.2" y2="288.2" stroke="#2a2a2a" stroke-width="1.15"/>
<text x="170.1" y="300.0" font-family="Liberation Sans" font-size="8.4" font-weight="bold" fill="#000" text-anchor="middle" stroke="#000" stroke-width="0.3" textLength="8.7" lengthAdjust="spacingAndGlyphs" >10</text>
<text x="210.6" y="300.0" font-family="Liberation Sans" font-size="8.4" font-weight="bold" fill="#000" text-anchor="middle" stroke="#000" stroke-width="0.3" textLength="9.2" lengthAdjust="spacingAndGlyphs" >12</text>
<text x="251.0" y="300.0" font-family="Liberation Sans" font-size="8.4" font-weight="bold" fill="#000" text-anchor="middle" stroke="#000" stroke-width="0.3" textLength="8.7" lengthAdjust="spacingAndGlyphs" >14</text>
<text x="291.7" y="300.0" font-family="Liberation Sans" font-size="8.4" font-weight="bold" fill="#000" text-anchor="middle" stroke="#000" stroke-width="0.3" textLength="8.7" lengthAdjust="spacingAndGlyphs" >16</text>
<text x="332.4" y="300.0" font-family="Liberation Sans" font-size="8.4" font-weight="bold" fill="#000" text-anchor="middle" stroke="#000" stroke-width="0.3" textLength="8.4" lengthAdjust="spacingAndGlyphs" >18</text>
<line x1="356.0" y1="284.6" x2="472.9" y2="284.6" stroke="#2a2a2a" stroke-width="1.15"/>
<line x1="356.3" y1="284.6" x2="356.3" y2="288.2" stroke="#2a2a2a" stroke-width="1.15"/>
<line x1="386.0" y1="284.6" x2="386.0" y2="288.2" stroke="#2a2a2a" stroke-width="1.15"/>
<line x1="414.9" y1="284.6" x2="414.9" y2="288.2" stroke="#2a2a2a" stroke-width="1.15"/>
<line x1="443.4" y1="284.6" x2="443.4" y2="288.2" stroke="#2a2a2a" stroke-width="1.15"/>
<line x1="472.6" y1="284.6" x2="472.6" y2="288.2" stroke="#2a2a2a" stroke-width="1.15"/>
<text x="355.8" y="300.0" font-family="Liberation Sans" font-size="8.4" font-weight="bold" fill="#000" text-anchor="middle" stroke="#000" stroke-width="0.3" textLength="11.5" lengthAdjust="spacingAndGlyphs" >-16</text>
<text x="385.3" y="300.0" font-family="Liberation Sans" font-size="8.4" font-weight="bold" fill="#000" text-anchor="middle" stroke="#000" stroke-width="0.3" textLength="11.8" lengthAdjust="spacingAndGlyphs" >-15</text>
<text x="413.7" y="300.0" font-family="Liberation Sans" font-size="8.4" font-weight="bold" fill="#000" text-anchor="middle" stroke="#000" stroke-width="0.3" textLength="11.8" lengthAdjust="spacingAndGlyphs" >-14</text>
<text x="442.6" y="300.0" font-family="Liberation Sans" font-size="8.4" font-weight="bold" fill="#000" text-anchor="middle" stroke="#000" stroke-width="0.3" textLength="11.8" lengthAdjust="spacingAndGlyphs" >-13</text>
<text x="472.5" y="300.0" font-family="Liberation Sans" font-size="8.4" font-weight="bold" fill="#000" text-anchor="middle" stroke="#000" stroke-width="0.3" textLength="11.9" lengthAdjust="spacingAndGlyphs" >-12</text>
<line x1="510.2" y1="284.6" x2="628.0" y2="284.6" stroke="#2a2a2a" stroke-width="1.15"/>
<line x1="510.2" y1="284.6" x2="510.2" y2="288.2" stroke="#2a2a2a" stroke-width="1.15"/>
<line x1="549.5" y1="284.6" x2="549.5" y2="288.2" stroke="#2a2a2a" stroke-width="1.15"/>
<line x1="588.5" y1="284.6" x2="588.5" y2="288.2" stroke="#2a2a2a" stroke-width="1.15"/>
<line x1="627.7" y1="284.6" x2="627.7" y2="288.2" stroke="#2a2a2a" stroke-width="1.15"/>
<text x="510.4" y="300.0" font-family="Liberation Sans" font-size="8.4" font-weight="bold" fill="#000" text-anchor="middle" stroke="#000" stroke-width="0.3" textLength="11.8" lengthAdjust="spacingAndGlyphs" >-85</text>
<text x="549.7" y="300.0" font-family="Liberation Sans" font-size="8.4" font-weight="bold" fill="#000" text-anchor="middle" stroke="#000" stroke-width="0.3" textLength="11.7" lengthAdjust="spacingAndGlyphs" >-75</text>
<text x="588.6" y="300.0" font-family="Liberation Sans" font-size="8.4" font-weight="bold" fill="#000" text-anchor="middle" stroke="#000" stroke-width="0.3" textLength="11.6" lengthAdjust="spacingAndGlyphs" >-65</text>
<text x="627.7" y="300.0" font-family="Liberation Sans" font-size="8.4" font-weight="bold" fill="#000" text-anchor="middle" stroke="#000" stroke-width="0.3" textLength="11.3" lengthAdjust="spacingAndGlyphs" >-55</text>
<line x1="627.7" y1="240.8" x2="627.7" y2="284.6" stroke="#2a2a2a" stroke-width="1.15"/>
<line x1="627.7" y1="241.2" x2="630.6" y2="241.2" stroke="#2a2a2a" stroke-width="1.15"/>
<line x1="627.7" y1="251.9" x2="630.6" y2="251.9" stroke="#2a2a2a" stroke-width="1.15"/>
<line x1="627.7" y1="262.6" x2="630.6" y2="262.6" stroke="#2a2a2a" stroke-width="1.15"/>
<line x1="627.7" y1="273.4" x2="630.6" y2="273.4" stroke="#2a2a2a" stroke-width="1.15"/>
<line x1="627.7" y1="284.1" x2="630.6" y2="284.1" stroke="#2a2a2a" stroke-width="1.15"/>
<text x="637.7" y="244.4" font-family="Liberation Serif" font-size="9.6" font-weight="bold" fill="#000" text-anchor="middle" stroke="#000" stroke-width="0.2" >0</text>
<text x="638.3" y="265.2" font-family="Liberation Serif" font-size="9.6" font-weight="bold" fill="#000" text-anchor="middle" stroke="#000" stroke-width="0.2" textLength="8.4" lengthAdjust="spacingAndGlyphs" >20</text>
<text x="638.3" y="287.5" font-family="Liberation Serif" font-size="9.6" font-weight="bold" fill="#000" text-anchor="middle" stroke="#000" stroke-width="0.2" textLength="8.4" lengthAdjust="spacingAndGlyphs" >40</text>
<text x="669.1" y="257.3" font-family="Liberation Serif" font-size="11.4" font-weight="bold" fill="#000" text-anchor="middle" stroke="#000" stroke-width="0.15" textLength="27" lengthAdjust="spacingAndGlyphs" >Depth</text>
<text x="669.1" y="272.3" font-family="Liberation Serif" font-size="11" font-weight="bold" fill="#000" text-anchor="middle" stroke="#000" stroke-width="0.15" textLength="20" lengthAdjust="spacingAndGlyphs" >(cm)</text>
<rect x="169.8" y="232.9" width="80.7" height="11.4" rx="0.6" fill="#eaeaea" stroke="#686868" stroke-width="0.9"/>
<text x="209.2" y="240.4" font-family="Liberation Sans" font-size="8.7" font-weight="normal" fill="#111" text-anchor="middle" stroke="#111" stroke-width="0.12" textLength="48.9" lengthAdjust="spacingAndGlyphs" >Stromatolites</text>
<rect x="255.25" y="239.65" width="3.9" height="3.9" fill="#fff" stroke="#000" stroke-width="1.1"/>
<rect x="291.20" y="241.10" width="4.6" height="4.6" fill="#000"/>
<rect x="308.00" y="241.10" width="4.6" height="4.6" fill="#000"/>
<rect x="322.25" y="248.05" width="3.9" height="3.9" fill="#fff" stroke="#000" stroke-width="1.1"/>
<rect x="326.25" y="252.75" width="3.9" height="3.9" fill="#fff" stroke="#000" stroke-width="1.1"/>
<rect x="296.20" y="252.10" width="4.6" height="4.6" fill="#000"/>
<rect x="292.85" y="263.25" width="3.9" height="3.9" fill="#fff" stroke="#000" stroke-width="1.1"/>
<rect x="263.95" y="266.95" width="3.9" height="3.9" fill="#fff" stroke="#000" stroke-width="1.1"/>
<rect x="283.65" y="276.35" width="3.9" height="3.9" fill="#fff" stroke="#000" stroke-width="1.1"/>
<rect x="308.55" y="274.55" width="3.9" height="3.9" fill="#fff" stroke="#000" stroke-width="1.1"/>
<circle cx="366.90" cy="247.50" r="1.6" fill="none" stroke="#000" stroke-width="1.05"/>
<circle cx="390.40" cy="244.50" r="2.1" fill="#000"/>
<circle cx="391.80" cy="247.50" r="2.1" fill="#000"/>
<circle cx="403.60" cy="249.60" r="1.6" fill="none" stroke="#000" stroke-width="1.05"/>
<circle cx="408.10" cy="251.60" r="1.6" fill="none" stroke="#000" stroke-width="1.05"/>
<circle cx="429.40" cy="255.80" r="1.6" fill="none" stroke="#000" stroke-width="1.05"/>
<circle cx="386.90" cy="260.00" r="1.6" fill="none" stroke="#000" stroke-width="1.05"/>
<circle cx="387.90" cy="257.10" r="2.1" fill="#000"/>
<circle cx="387.50" cy="259.10" r="2.1" fill="#000"/>
<circle cx="391.80" cy="262.70" r="1.6" fill="none" stroke="#000" stroke-width="1.05"/>
<circle cx="386.20" cy="265.40" r="1.6" fill="none" stroke="#000" stroke-width="1.05"/>
<circle cx="412.80" cy="259.60" r="1.6" fill="none" stroke="#777" stroke-width="1.0"/>
<circle cx="410.60" cy="260.70" r="2.1" fill="#000"/>
<circle cx="408.10" cy="264.60" r="2.1" fill="#000"/>
<circle cx="404.30" cy="268.50" r="2.1" fill="#000"/>
<circle cx="373.20" cy="268.70" r="1.6" fill="none" stroke="#000" stroke-width="1.05"/>
<circle cx="380.40" cy="271.90" r="2.1" fill="#000"/>
<circle cx="356.30" cy="272.00" r="1.6" fill="none" stroke="#000" stroke-width="1.05"/>
<circle cx="406.50" cy="275.40" r="1.6" fill="none" stroke="#000" stroke-width="1.05"/>
<circle cx="418.10" cy="278.70" r="1.6" fill="none" stroke="#777" stroke-width="1.0"/>
<circle cx="425.70" cy="279.80" r="1.6" fill="none" stroke="#000" stroke-width="1.05"/>
<circle cx="429.70" cy="282.80" r="1.6" fill="none" stroke="#000" stroke-width="1.05"/>
<path d="M574.80 242.10L577.20 244.50L574.80 246.90L572.40 244.50Z" fill="none" stroke="#000" stroke-width="1.3"/>
<path d="M580.20 250.20L582.60 252.60L580.20 255.00L577.80 252.60Z" fill="none" stroke="#000" stroke-width="1.3"/>
<path d="M559.30 258.60L561.70 261.00L559.30 263.40L556.90 261.00Z" fill="none" stroke="#000" stroke-width="1.3"/>
<path d="M584.30 266.60L586.70 269.00L584.30 271.40L581.90 269.00Z" fill="none" stroke="#000" stroke-width="1.3"/>
<path d="M583.00 274.70L585.40 277.10L583.00 279.50L580.60 277.10Z" fill="none" stroke="#000" stroke-width="1.3"/>
<path d="M573.20 282.00L575.60 284.40L573.20 286.80L570.80 284.40Z" fill="none" stroke="#000" stroke-width="1.3"/>
<rect x="26.5" y="239.5" width="117" height="12.3" fill="#fff" stroke="#7a7a7a" stroke-width="0.9"/>
<text x="84.7" y="248.3" font-family="Liberation Serif" font-size="11.2" font-weight="bold" fill="#000" text-anchor="middle" stroke="#000" stroke-width="0.2" textLength="27" lengthAdjust="spacingAndGlyphs" >Legend</text>
<path d="M28.70 260.60L31.30 263.20L28.70 265.80L26.10 263.20Z" fill="#801111" stroke="#801111" stroke-width="0.9" stroke-linejoin="round"/>
<path d="M28.70 275.50L32.00 278.80L28.70 282.10L25.40 278.80Z" fill="#3a7cc4"/>
<path d="M28.60 291.75L31.15 294.30L28.60 296.85L26.05 294.30Z" fill="none" stroke="#52a6dc" stroke-width="1.5"/>
<circle cx="28.60" cy="310.20" r="2.55" fill="#c62329"/>
<circle cx="28.60" cy="325.40" r="2.55" fill="#f06a10"/>
<text x="43.7" y="266.7" font-family="Liberation Serif" font-size="10.6" font-weight="bold" fill="#000" text-anchor="start" stroke="#000" stroke-width="0.15" textLength="32.1" lengthAdjust="spacingAndGlyphs" >DZ14-10</text>
<text x="43.7" y="282.09999999999997" font-family="Liberation Serif" font-size="10.6" font-weight="bold" fill="#000" text-anchor="start" stroke="#000" stroke-width="0.15" textLength="27.3" lengthAdjust="spacingAndGlyphs" >DZ14-4</text>
<text x="43.7" y="297.59999999999997" font-family="Liberation Serif" font-size="10.6" font-weight="bold" fill="#000" text-anchor="start" stroke="#000" stroke-width="0.15" textLength="27.3" lengthAdjust="spacingAndGlyphs" >DZ12-4</text>
<text x="43.7" y="313.29999999999995" font-family="Liberation Serif" font-size="10.6" font-weight="bold" fill="#000" text-anchor="start" stroke="#000" stroke-width="0.15" textLength="18.8" lengthAdjust="spacingAndGlyphs" >DZ11</text>
<text x="43.7" y="328.7" font-family="Liberation Serif" font-size="10.6" font-weight="bold" fill="#000" text-anchor="start" stroke="#000" stroke-width="0.15" textLength="19.9" lengthAdjust="spacingAndGlyphs" >DZ10</text>
<text x="117.2" y="266.7" font-family="Liberation Serif" font-size="10.6" font-weight="bold" fill="#000" text-anchor="start" stroke="#000" stroke-width="0.15" textLength="23.7" lengthAdjust="spacingAndGlyphs" >Core 1</text>
<text x="117.2" y="282.09999999999997" font-family="Liberation Serif" font-size="10.6" font-weight="bold" fill="#000" text-anchor="start" stroke="#000" stroke-width="0.15" textLength="23.7" lengthAdjust="spacingAndGlyphs" >Core 2</text>
<text x="117.2" y="297.59999999999997" font-family="Liberation Serif" font-size="10.6" font-weight="bold" fill="#000" text-anchor="start" stroke="#000" stroke-width="0.15" textLength="23.7" lengthAdjust="spacingAndGlyphs" >Core 5</text>
<text x="117.2" y="313.29999999999995" font-family="Liberation Serif" font-size="10.6" font-weight="bold" fill="#000" text-anchor="start" stroke="#000" stroke-width="0.15" textLength="23.7" lengthAdjust="spacingAndGlyphs" >Core 4</text>
<text x="117.2" y="328.7" font-family="Liberation Serif" font-size="10.6" font-weight="bold" fill="#000" text-anchor="start" stroke="#000" stroke-width="0.15" textLength="23.7" lengthAdjust="spacingAndGlyphs" >Core 9</text>
<circle cx="95.80" cy="263.30" r="1.8" fill="none" stroke="#000" stroke-width="1.2"/>
<circle cx="95.70" cy="278.90" r="2.5" fill="#000"/>
<path d="M95.80 291.50L98.50 294.20L95.80 296.90L93.10 294.20Z" fill="none" stroke="#000" stroke-width="1.3"/>
<rect x="93.89999999999999" y="308.0" width="3.8" height="3.8" fill="none" stroke="#000" stroke-width="1.2"/>
<circle cx="95.30" cy="325.30" r="1.8" fill="none" stroke="#000" stroke-width="1.2"/>
<rect x="99.19999999999999" y="323.1" width="4.8" height="4.8" fill="#000"/>
<text x="64.0" y="13.8" font-family="Liberation Serif" font-weight="bold" font-style="normal" font-size="12.3" textLength="12.50" lengthAdjust="spacingAndGlyphs" stroke="#000" stroke-width="0.12">(a)</text>
<text x="78.7" y="13.8" font-family="Liberation Serif" font-weight="bold" font-style="normal" font-size="12.3" textLength="26.30" lengthAdjust="spacingAndGlyphs" stroke="#000" stroke-width="0.12">[DIC]</text>
<text x="110.8" y="13.8" font-family="Liberation Serif" font-weight="bold" font-style="normal" font-size="12.3" textLength="16.80" lengthAdjust="spacingAndGlyphs" stroke="#000" stroke-width="0.12">(M)</text>
<text x="194.3" y="13.7" font-family="Liberation Serif" font-weight="bold" font-style="normal" font-size="12.3" textLength="13.00" lengthAdjust="spacingAndGlyphs" stroke="#000" stroke-width="0.12">(b)</text>
<text x="209.6" y="13.7" font-family="Liberation Serif" font-weight="bold" font-style="normal" font-size="12.4" textLength="5.40" lengthAdjust="spacingAndGlyphs" stroke="#000" stroke-width="0.12">δ</text>
<text x="215.2" y="9.799999999999999" font-family="Liberation Serif" font-weight="bold" font-style="normal" font-size="8.2" textLength="8.00" lengthAdjust="spacingAndGlyphs" stroke="#000" stroke-width="0.2">13</text>
<text x="223.4" y="13.7" font-family="Liberation Serif" font-weight="bold" font-style="normal" font-size="12.3" textLength="7.20" lengthAdjust="spacingAndGlyphs" stroke="#000" stroke-width="0.12">C</text>
<text x="230.7" y="16.099999999999998" font-family="Liberation Serif" font-weight="bold" font-style="normal" font-size="8.0" textLength="15.90" lengthAdjust="spacingAndGlyphs" stroke="#000" stroke-width="0.2">DIC</text>
<text x="248.5" y="13.7" font-family="Liberation Serif" font-size="12.3" textLength="17.50" lengthAdjust="spacingAndGlyphs" stroke="#000" stroke-width="0.15">(<tspan font-style="italic">‰</tspan>)</text>
<text x="378.0" y="13.7" font-family="Liberation Serif" font-weight="bold" font-style="normal" font-size="12.3" textLength="12.00" lengthAdjust="spacingAndGlyphs" stroke="#000" stroke-width="0.12">(c)</text>
<text x="392.8" y="13.7" font-family="Liberation Serif" font-weight="bold" font-style="normal" font-size="12.4" textLength="5.70" lengthAdjust="spacingAndGlyphs" stroke="#000" stroke-width="0.12">δ</text>
<text x="398.8" y="9.799999999999999" font-family="Liberation Serif" font-weight="bold" font-style="normal" font-size="8.2" textLength="7.50" lengthAdjust="spacingAndGlyphs" stroke="#000" stroke-width="0.2">13</text>
<text x="406.4" y="13.7" font-family="Liberation Serif" font-weight="bold" font-style="normal" font-size="12.3" textLength="8.50" lengthAdjust="spacingAndGlyphs" stroke="#000" stroke-width="0.12">C</text>
<text x="414.8" y="16.099999999999998" font-family="Liberation Serif" font-weight="bold" font-style="normal" font-size="8.0" textLength="16.10" lengthAdjust="spacingAndGlyphs" stroke="#000" stroke-width="0.2">POC</text>
<text x="433.5" y="13.7" font-family="Liberation Serif" font-size="12.3" textLength="17.10" lengthAdjust="spacingAndGlyphs" stroke="#000" stroke-width="0.15">(<tspan font-style="italic">‰</tspan>)</text>
<text x="532.4" y="13.8" font-family="Liberation Serif" font-weight="bold" font-style="normal" font-size="12.3" textLength="13.20" lengthAdjust="spacingAndGlyphs" stroke="#000" stroke-width="0.12">(d)</text>
<text x="548.0" y="13.8" font-family="Liberation Serif" font-weight="bold" font-style="normal" font-size="12.4" textLength="5.50" lengthAdjust="spacingAndGlyphs" stroke="#000" stroke-width="0.12">δ</text>
<text x="553.8" y="9.9" font-family="Liberation Serif" font-weight="bold" font-style="normal" font-size="8.2" textLength="7.70" lengthAdjust="spacingAndGlyphs" stroke="#000" stroke-width="0.2">13</text>
<text x="562.3" y="13.8" font-family="Liberation Serif" font-weight="bold" font-style="normal" font-size="12.3" textLength="7.80" lengthAdjust="spacingAndGlyphs" stroke="#000" stroke-width="0.12">C</text>
<text x="570.3" y="16.0" font-family="Liberation Serif" font-weight="bold" font-style="normal" font-size="8.0" textLength="11.20" lengthAdjust="spacingAndGlyphs" stroke="#000" stroke-width="0.2">CH</text>
<text x="581.7" y="18.5" font-family="Liberation Serif" font-weight="bold" font-style="normal" font-size="5.4" textLength="2.50" lengthAdjust="spacingAndGlyphs" stroke="#000" stroke-width="0.15">4</text>
<text x="586.8" y="13.8" font-family="Liberation Serif" font-size="12.3" textLength="18.00" lengthAdjust="spacingAndGlyphs" stroke="#000" stroke-width="0.15">(<tspan font-style="italic">‰</tspan>)</text>
<text x="214.4" y="319.0" font-family="Liberation Serif" font-weight="bold" font-style="normal" font-size="12.3" textLength="12.60" lengthAdjust="spacingAndGlyphs">(e)</text>
<text x="229.5" y="319.0" font-family="Liberation Serif" font-weight="bold" font-style="normal" font-size="12.4" textLength="5.50" lengthAdjust="spacingAndGlyphs">δ</text>
<text x="235.2" y="314.8" font-family="Liberation Serif" font-weight="bold" font-style="normal" font-size="8.2" textLength="7.80" lengthAdjust="spacingAndGlyphs" stroke="#000" stroke-width="0.08">13</text>
<text x="243.1" y="319.0" font-family="Liberation Serif" font-weight="bold" font-style="normal" font-size="12.3" textLength="7.30" lengthAdjust="spacingAndGlyphs">C</text>
<text x="250.6" y="321.8" font-family="Liberation Serif" font-weight="bold" font-style="normal" font-size="8.0" textLength="15.70" lengthAdjust="spacingAndGlyphs" stroke="#000" stroke-width="0.08">carb</text>
<text x="268.3" y="319.0" font-family="Liberation Serif" font-size="12.3" textLength="18.50" lengthAdjust="spacingAndGlyphs" stroke="#000" stroke-width="0.15">(<tspan font-style="italic">‰</tspan>)</text>
<text x="380.7" y="319.0" font-family="Liberation Serif" font-weight="bold" font-style="normal" font-size="12.3" textLength="10.60" lengthAdjust="spacingAndGlyphs">(f)</text>
<text x="393.5" y="319.0" font-family="Liberation Serif" font-weight="bold" font-style="normal" font-size="12.4" textLength="5.60" lengthAdjust="spacingAndGlyphs">δ</text>
<text x="399.4" y="314.8" font-family="Liberation Serif" font-weight="bold" font-style="normal" font-size="8.2" textLength="8.00" lengthAdjust="spacingAndGlyphs" stroke="#000" stroke-width="0.08">13</text>
<text x="407.5" y="319.0" font-family="Liberation Serif" font-weight="bold" font-style="normal" font-size="12.3" textLength="8.70" lengthAdjust="spacingAndGlyphs">C</text>
<text x="416.0" y="321.8" font-family="Liberation Serif" font-weight="bold" font-style="normal" font-size="8.0" textLength="11.40" lengthAdjust="spacingAndGlyphs" stroke="#000" stroke-width="0.08">org</text>
<text x="429.6" y="319.0" font-family="Liberation Serif" font-size="12.3" textLength="18.80" lengthAdjust="spacingAndGlyphs" stroke="#000" stroke-width="0.15">(<tspan font-style="italic">‰</tspan>)</text>
<text x="534.7" y="319.0" font-family="Liberation Serif" font-weight="bold" font-style="normal" font-size="12.3" textLength="11.80" lengthAdjust="spacingAndGlyphs">(g)</text>
<text x="549.5" y="319.0" font-family="Liberation Serif" font-weight="bold" font-style="normal" font-size="12.4" textLength="5.30" lengthAdjust="spacingAndGlyphs">δ</text>
<text x="555.0" y="314.8" font-family="Liberation Serif" font-weight="bold" font-style="normal" font-size="8.2" textLength="8.30" lengthAdjust="spacingAndGlyphs" stroke="#000" stroke-width="0.08">13</text>
<text x="563.2" y="319.0" font-family="Liberation Serif" font-weight="bold" font-style="normal" font-size="12.3" textLength="8.30" lengthAdjust="spacingAndGlyphs">C</text>
<text x="571.5" y="321.6" font-family="Liberation Serif" font-weight="bold" font-style="normal" font-size="8.0" textLength="10.90" lengthAdjust="spacingAndGlyphs" stroke="#000" stroke-width="0.08">CH</text>
<text x="582.7" y="324.1" font-family="Liberation Serif" font-weight="bold" font-style="normal" font-size="5.4" textLength="2.30" lengthAdjust="spacingAndGlyphs" stroke="#000" stroke-width="0.15">4</text>
<text x="588.5" y="319.0" font-family="Liberation Serif" font-size="12.3" textLength="17.10" lengthAdjust="spacingAndGlyphs" stroke="#000" stroke-width="0.15">(<tspan font-style="italic">‰</tspan>)</text>
</svg>
</body></html>
